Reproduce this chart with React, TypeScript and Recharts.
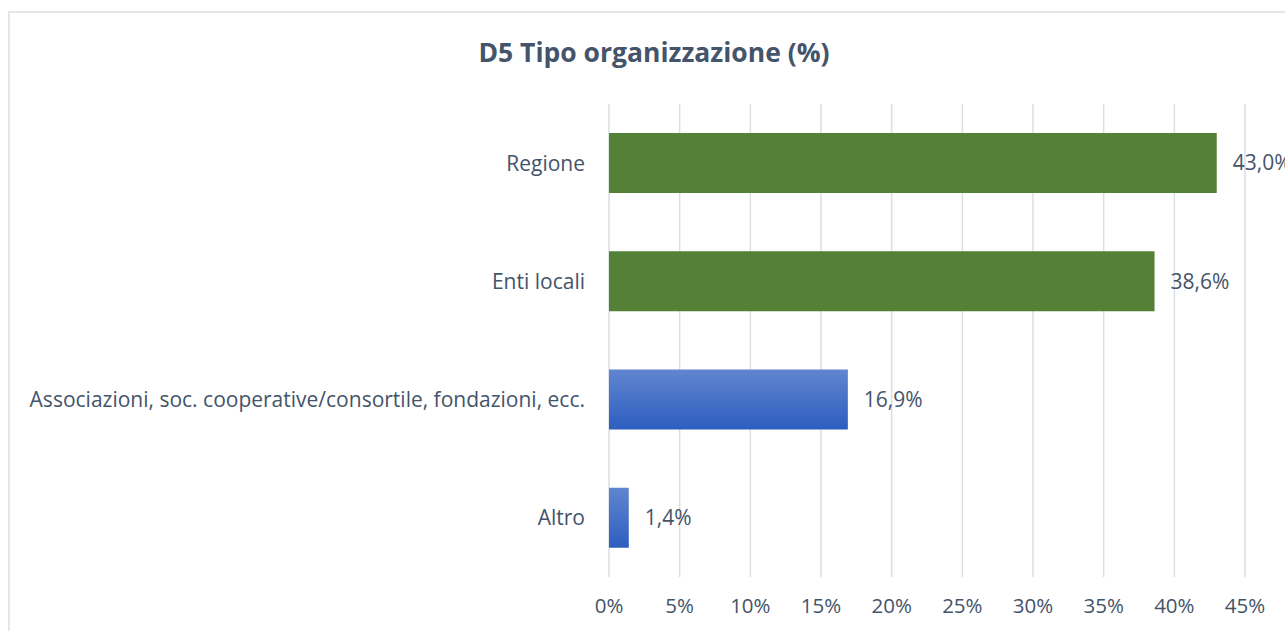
import { BarChart, Bar, XAxis, YAxis, CartesianGrid, Cell, LabelList } from "recharts"

const CATEGORIES = [
  "Regione",
  "Enti locali",
  "Associazioni, soc. cooperative/consortile, fondazioni, ecc.",
  "Altro",
]
const VALUES = [43.0, 38.6, 16.9, 1.4]
const BAR_KIND = ["green", "green", "blue", "blue"]
const X_TICKS = [0, 5, 10, 15, 20, 25, 30, 35, 40, 45]

const TEXT = "#44546a"
const FONT = "'Open Sans', sans-serif"

const data = CATEGORIES.map((name, i) => ({ name, value: VALUES[i], kind: BAR_KIND[i] }))

const fmt = (v: any) => `${Number(v).toFixed(1).replace(".", ",")}%`

export default function App() {
  return (
    <div
      style={{
        position: "fixed",
        left: 8,
        top: 11,
        width: 1277,
        height: 620,
        borderTop: "2px solid #e3e6eb",
        borderLeft: "2px solid #e3e6eb",
        boxSizing: "border-box",
        background: "#fff",
        fontFamily: FONT,
      }}
    >
      <div
        style={{
          position: "absolute",
          left: 0,
          top: 21,
          width: 1288,
          textAlign: "center",
          fontSize: 26.5,
          fontWeight: 700,
          color: TEXT,
          lineHeight: "36px",
        }}
      >
        D5 Tipo organizzazione (%)
      </div>
      <div style={{ position: "absolute", left: -2, top: -2 }}>
        <BarChart
          width={1277}
          height={620}
          data={data}
          layout="vertical"
          margin={{ top: 93, right: 40, left: 0, bottom: 0 }}
          barCategoryGap={29}
          style={{ overflow: "visible" }}
        >
          <defs>
            <linearGradient id="blueGrad" x1="0" y1="0" x2="0" y2="1">
              <stop offset="0%" stopColor="#6185d0" />
              <stop offset="100%" stopColor="#2d5ebf" />
            </linearGradient>
          </defs>
          <CartesianGrid horizontal={false} stroke="#dadee5" strokeWidth={1.5} />
          <XAxis
            type="number"
            domain={[0, 45]}
            ticks={X_TICKS}
            interval={0}
            axisLine={false}
            tickLine={false}
            height={54}
            tickMargin={15}
            tickFormatter={(v) => `${v}%`}
            tick={{ fill: TEXT, fontSize: 20.5, fontFamily: FONT }}
          />
          <YAxis
            type="category"
            dataKey="name"
            width={601}
            axisLine={false}
            tickLine={false}
            tickMargin={18}
            interval={0}
            tick={{ fill: TEXT, fontSize: 21, fontFamily: FONT }}
          />
          <Bar dataKey="value" isAnimationActive={false}>
            {data.map((d, i) => (
              <Cell key={`c-${i}`} fill={d.kind === "green" ? "#538135" : "url(#blueGrad)"} />
            ))}
            <LabelList
              dataKey="value"
              position="right"
              offset={16}
              formatter={fmt}
              style={{ fill: TEXT, fontSize: 21, fontFamily: FONT }}
            />
          </Bar>
        </BarChart>
      </div>
    </div>
  )
}
